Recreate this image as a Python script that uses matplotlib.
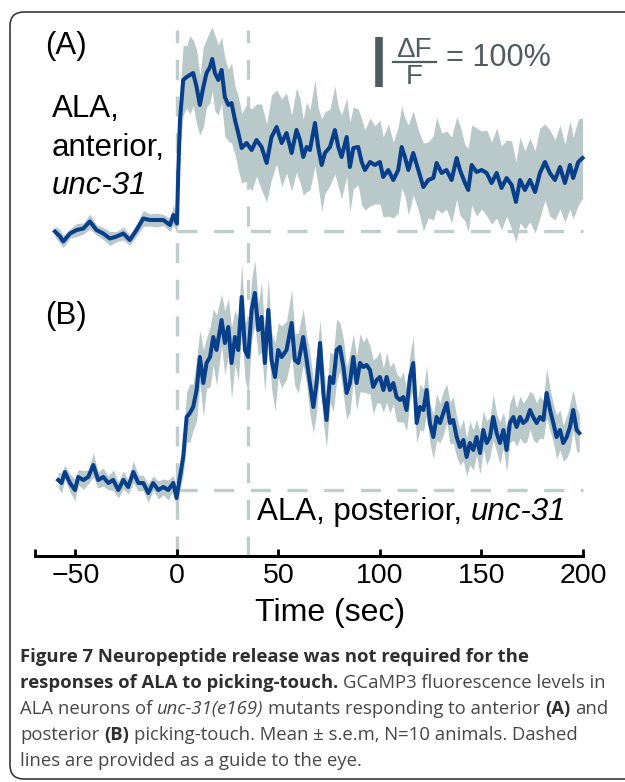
import numpy as np
import matplotlib.pyplot as plt
from matplotlib.patches import FancyBboxPatch
from matplotlib.transforms import IdentityTransform

# ---- GCaMP3 dF/F (%), time in sec ----
# (A) anterior picking-touch
time_a = [-60.1, -57.6, -56.0, -52.7, -49.4, -46.1, -42.9, -39.6, -36.3, -33.0,
          -29.7, -26.4, -23.2, -19.9, -16.6, -13.3, -10.0, -6.7, -3.4, -1.8,
          0.0, 0.7, 1.5, 3.1, 4.8, 6.4, 8.0, 9.7, 11.3, 13.0,
          14.6, 16.3, 17.4, 18.7, 20.4, 22.0, 23.6, 25.3, 26.9, 28.6,
          30.2, 31.9, 34.3, 36.8, 39.2, 41.7, 44.2, 46.6, 49.1, 51.6,
          54.0, 56.5, 58.9,
          60.6, 62.2, 63.9, 65.5, 68.0, 69.6, 71.3, 72.9, 75.4, 77.8,
          79.5, 81.1, 83.6, 85.2, 86.9, 89.3, 91.0, 92.6, 95.1, 97.5,
          100.0, 101.6, 104.1, 106.6, 109.0, 110.7, 112.3, 114.0, 116.4, 118.9,
          121.4, 123.8, 126.3, 127.9, 130.4, 132.8, 135.3, 137.8, 139.4, 141.9,
          143.5, 145.2, 147.6, 150.1, 152.6, 155.0, 157.5, 159.9, 162.4, 164.9,
          167.0, 169.0, 171.4, 173.9, 176.4, 178.8, 181.3, 183.7, 186.2, 188.7,
          191.1, 193.6, 195.2, 197.7, 199.8]
mean_a = [-1, -11, -21, -5, 2, 5, 19, 2, -5, -15,
          -11, -5, -18, 2, 25, 22, 22, 22, 12, 32,
          15, 122, 222, 302, 308, 312, 316, 288, 252, 288,
          316, 328, 344, 316, 302, 322, 268, 252, 256, 222,
          196, 166, 176, 162, 182, 168, 136, 188, 208, 176,
          196, 156, 202,
          182, 148, 168, 162, 216, 168, 132, 156, 168, 202,
          168, 148, 188, 128, 166, 168, 138, 122, 138, 132,
          138, 108, 122, 102, 122, 168, 148, 122, 156, 122,
          88, 102, 106, 136, 116, 122, 102, 146, 122, 96,
          82, 132, 118, 122, 116, 96, 116, 86, 106, 92,
          58, 102, 82, 102, 78, 116, 138, 116, 102, 128,
          96, 132, 106, 138, 146]
sem_a = [10, 14, 12, 9, 13, 11, 15, 10, 12, 14,
         10, 13, 11, 12, 16, 12, 14, 11, 13, 20,
         18, 40, 60, 70, 62, 78, 66, 74, 60, 80,
         68, 72, 64, 76, 70, 66, 78, 72, 80, 68,
         74, 70, 76, 82, 72, 86, 78, 84, 74, 88,
         80, 76, 84,
         84, 76, 90, 80, 86, 78, 92, 82, 76, 88,
         80, 84, 78, 90, 82, 76, 86, 80, 88, 78,
         84, 80, 92, 76, 86, 82, 78, 90, 84, 80,
         88, 76, 84, 92, 80, 78, 86, 82, 90, 76,
         84, 80, 88, 78, 86, 82, 90, 84, 76, 88,
         80, 86, 78, 84, 82, 90, 76, 86, 80, 84,
         78, 88, 82, 86, 80]

# (B) posterior picking-touch
time_b = [-58.5, -56.8, -55.2, -52.7, -50.2, -48.6, -46.1, -43.7, -41.2, -38.8,
          -36.3, -33.8, -31.4, -28.9, -26.4, -24.0, -21.5, -19.0, -16.6, -14.1,
          -11.7, -9.2, -6.7, -4.3, -1.8, -0.2, 1.5, 3.1, 4.8, 6.4,
          8.0, 9.7, 11.3, 13.0, 14.6, 16.3, 17.9, 19.5, 22.0, 23.6,
          25.3, 26.9, 28.6, 30.2, 31.9, 33.5, 35.1, 36.8, 38.4, 40.1,
          41.7, 43.3, 45.0, 46.6, 48.3, 49.9, 51.6, 54.0, 56.5, 58.1,
          59.8,
          62.2, 63.9, 65.5, 67.2, 68.8, 70.5, 72.1, 73.7, 75.4, 77.0,
          78.7, 80.3, 82.0, 83.6, 85.2, 86.9, 88.5, 90.2, 91.8, 93.4,
          95.1, 96.7, 98.4, 100.0, 101.7, 103.3, 104.9, 106.6, 108.2, 109.9,
          111.5, 113.1, 114.8, 116.4, 118.1, 119.7, 121.4, 123.0, 124.6, 126.3,
          127.9, 129.6, 131.2, 132.9, 134.5, 136.1, 137.8, 139.4, 141.1, 142.7,
          144.3, 146.0, 147.6, 149.3, 150.9, 152.6, 154.2, 155.8, 157.5, 159.1,
          160.8, 162.4, 164.0, 165.7, 167.3, 169.0, 170.6, 172.3, 173.9, 175.5,
          177.2, 178.8, 180.5, 182.1, 183.8, 185.4, 187.0, 188.7, 190.3, 192.0,
          193.6, 195.2, 196.9, 198.2]
mean_b = [20, 14, 36, 14, 0, 26, 20, 26, 50, 20,
          26, 14, 20, 0, 20, 6, 36, 14, 14, -6,
          14, 0, 6, 0, 14, -16, 26, 66, 146, 154,
          166, 200, 266, 214, 254, 266, 306, 280, 340, 294,
          326, 254, 306, 280, 386, 280, 266, 360, 394, 320,
          346, 254, 360, 260, 226, 280, 266, 280, 334, 260,
          254,
          306, 260, 214, 166, 214, 294, 194, 140, 226, 214,
          280, 286, 246, 194, 214, 266, 214, 254, 246, 250,
          240, 206, 220, 226, 200, 226, 200, 214, 186, 180,
          186, 160, 226, 254, 134, 166, 160, 200, 134, 106,
          146, 134, 154, 174, 134, 140, 106, 86, 100, 66,
          94, 80, 106, 74, 120, 94, 106, 146, 114, 94,
          120, 80, 134, 146, 126, 146, 134, 140, 160, 146,
          134, 146, 140, 194, 160, 134, 106, 120, 94, 106,
          126, 160, 120, 114]
sem_b = [16, 20, 14, 18, 22, 15, 19, 14, 24, 16,
         18, 14, 20, 16, 18, 14, 22, 16, 15, 19,
         14, 18, 16, 20, 15, 22, 26, 36, 50, 58,
         46, 62, 54, 66, 50, 60, 56, 70, 52, 64,
         58, 72, 54, 62, 68, 56, 74, 60, 66, 52,
         70, 58, 64, 56, 68, 54, 62, 58, 66, 52,
         60,
         56, 48, 62, 52, 58, 46, 60, 54, 50, 58,
         62, 48, 56, 52, 60, 46, 54, 58, 50, 56,
         48, 54, 46, 52, 44, 50, 46, 42, 48, 44,
         50, 42, 46, 52, 40, 46, 42, 48, 40, 44,
         46, 40, 44, 38, 42, 46, 40, 36, 42, 38,
         44, 40, 36, 42, 38, 44, 40, 46, 38, 42,
         36, 44, 40, 46, 38, 42, 40, 44, 38, 46,
         40, 42, 38, 50, 42, 38, 44, 40, 36, 42,
         46, 40, 44, 38]

xticks = [-50, 0, 50, 100, 150, 200]
stim_lines = [0, 35]        # dashed guides (sec)
offset_a = 518              # panel A trace is drawn above panel B
scale_pct = 100             # scale bar height, dF/F %

caption = [
    [("Figure 7 Neuropeptide release was not required for the", "bold", "normal")],
    [("responses of ALA to picking-touch.", "bold", "normal"),
     (" GCaMP3 fluorescence levels in", "normal", "normal")],
    [("ALA neurons of", "normal", "normal"), (" unc-31(e169)", "normal", "italic"),
     (" mutants responding to anterior", "normal", "normal"), (" (A)", "bold", "normal"),
     (" and", "normal", "normal")],
    [("posterior", "normal", "normal"), (" (B)", "bold", "normal"),
     (" picking-touch. Mean \u00b1 s.e.m, N=10 animals. Dashed", "normal", "normal")],
    [("lines are provided as a guide to the eye.", "normal", "normal")],
]

W, H = 625, 782
def fx(px):
    return px / W
def fy(py):
    return 1 - py / H

band_color = "#b9c8c9"
line_color = "#073f8b"
dash_color = "#bfcdcd"
scale_color = "#4f5c5f"

plt.rcParams['font.family'] = ['Liberation Sans', 'DejaVu Sans']

fig = plt.figure(figsize=(W / 100, H / 100), dpi=100)
ax = fig.add_axes([fx(20), fy(556), fx(600) - fx(20), fy(20) - fy(556)])
ax.set_xlim(-77.3, 208.4)
ax.set_ylim(-132, 940)
ax.patch.set_alpha(0)

# traces: mean +/- s.e.m.
for t, m, s, off in [(time_a, mean_a, sem_a, offset_a), (time_b, mean_b, sem_b, 0)]:
    t, m, s = np.array(t), np.array(m), np.array(s)
    ax.fill_between(t, m - s + off, m + s + off, color=band_color, lw=0, zorder=2)
    ax.plot(t, m + off, color=line_color, lw=2.9, zorder=3, solid_joinstyle='round')

# dashed guides
dash = dict(color=dash_color, lw=2.4, ls=(0, (6, 5)), zorder=1)
for t in stim_lines:
    ax.plot([t, t], [-132, 920], **dash)
ax.plot([0, 200], [offset_a, offset_a], **dash)
ax.plot([0, 200], [0, 0], **dash)

# scale bar
ax.plot([99.5, 99.5], [807, 807 + scale_pct], color=scale_color, lw=5.5,
        solid_capstyle='butt')

for side in ('top', 'right', 'left'):
    ax.spines[side].set_visible(False)
ax.spines['bottom'].set_bounds(-70, 200)
ax.spines['bottom'].set_linewidth(2.2)
ax.set_yticks([])
ax.set_xticks(xticks)
ax.set_xticks([-70], minor=True)
ax.tick_params(axis='x', which='both', direction='in', length=5, width=2,
               labelsize=20.5, pad=5)

fig.text(fx(330), fy(613), "Time (sec)", ha='center', va='center', fontsize=23)

# panel labels
lab_fs = 22.5
fig.text(fx(45), fy(46), "(A)", va='center', fontsize=lab_fs)
fig.text(fx(52), fy(117), "ALA,", va='baseline', fontsize=lab_fs)
fig.text(fx(52), fy(156), "anterior,", va='baseline', fontsize=lab_fs)
fig.text(fx(52), fy(194), "unc-31", va='baseline', fontsize=lab_fs, style='italic')
fig.text(fx(45), fy(316), "(B)", va='center', fontsize=lab_fs)

renderer = fig.canvas.get_renderer()
def ink_width(t):
    return t.get_window_extent(renderer).width

lab = fig.text(fx(257), fy(520), "ALA, posterior,", va='baseline', fontsize=lab_fs)
probe = [fig.text(0, 0, s, fontsize=lab_fs) for s in ("a a", "aa")]
gap = ink_width(probe[0]) - ink_width(probe[1])
for p in probe:
    p.remove()
fig.text(fx(257 + ink_width(lab) + gap), fy(520), "unc-31", va='baseline',
         fontsize=lab_fs, style='italic')

# scale bar label
fig.text(fx(414), fy(50), "\u0394F", ha='center', va='center', fontsize=20, color=scale_color)
fig.lines.append(plt.Line2D([fx(393), fx(436)], [fy(62), fy(62)], transform=fig.transFigure,
                            color=scale_color, lw=1.6))
fig.text(fx(414), fy(77), "F", ha='center', va='center', fontsize=20, color=scale_color)
fig.text(fx(446), fy(58), "= 100%", va='center', fontsize=22, color=scale_color)

# caption, laid out run by run
cap_fs = 13.3
def cap_text(x, y, s, weight, style, color="#474747"):
    return fig.text(fx(x), fy(y), s, family='Open Sans', fontsize=cap_fs, weight=weight,
                    style=style, color=color, va='baseline')

probe = [cap_text(0, 0, s, "normal", "normal") for s in ("a a", "aa")]
space = ink_width(probe[0]) - ink_width(probe[1])
for p in probe:
    p.remove()

y = 662
for line in caption:
    x = 20
    for s, weight, style in line:
        if s.startswith(" "):
            x += space
            s = s[1:]
        color = "#2e2e2e" if weight == "bold" else "#474747"
        x += ink_width(cap_text(x, y, s, weight, style, color))
    y += 26

# rounded frame around the figure
frame = FancyBboxPatch((10, H - 779), 660, 767, boxstyle="round,pad=0,rounding_size=14",
                       transform=IdentityTransform(), fill=False, ec="#3a3a3a", lw=1.2)
fig.patches.append(frame)

fig.savefig("out.png", dpi=100)
